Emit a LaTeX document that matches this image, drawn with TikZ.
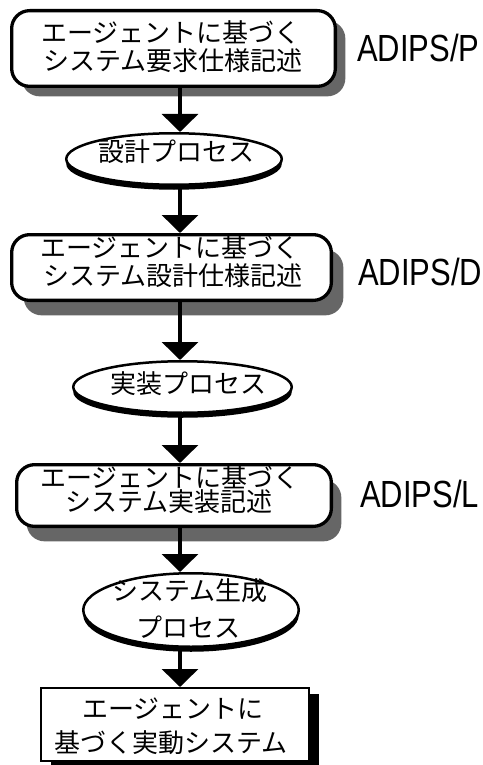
\documentclass[tikz,border=0pt]{standalone}
\usepackage{fontspec}
\setmainfont{Noto Sans CJK JP}
\newfontfamily\latfont{Liberation Sans}
\usetikzlibrary{arrows.meta,shadows,shapes.geometric}
\begin{document}
\begin{tikzpicture}[x=1pt,y=-1pt,
  descbox/.style 2 args={draw, line width=3.3pt, rounded corners=18pt, fill=white, inner sep=0pt,
     general shadow={shadow xshift=#1, shadow yshift=#2, fill=black!60}},
  procell/.style={ellipse, draw, line width=2.5pt, fill=white, inner sep=0pt,
     general shadow={shadow yshift=-5pt, fill=black}},
  finalbox/.style={draw, line width=2pt, fill=white, inner sep=0pt,
     general shadow={shadow xshift=10pt, shadow yshift=-6pt, fill=black}},
  arr/.style={line width=3.3pt, -{Triangle[width=36pt,length=18pt]}},
  jp/.style={inner sep=0pt, font=\fontsize{26pt}{30pt}\selectfont},
  lbl/.style={inner sep=0pt, anchor=base west, font=\latfont\fontsize{31pt}{36pt}\selectfont}]
\useasboundingbox (0,0) rectangle (482,765);
\coordinate (ax) at (180,0);

% description boxes
\node[descbox={10pt}{-10pt}, minimum width=323.7pt, minimum height=75.7pt] (b1) at (173.5,48.5) {};
\node[descbox={12pt}{-15pt}, minimum width=319.7pt, minimum height=65.7pt] (b2) at (171.5,267.5) {};
\node[descbox={10pt}{-15pt}, minimum width=314.7pt, minimum height=61.7pt] (b3) at (174,495.5) {};
\node[finalbox, minimum width=268pt, minimum height=73pt] (b4) at (175,724.5) {};

% process ellipses
\node[procell, minimum width=215.5pt, minimum height=51.5pt] (e1) at (174,159) {};
\node[procell, minimum width=218.5pt, minimum height=51.5pt] (e2) at (182.5,387) {};
\node[procell, minimum width=215.5pt, minimum height=73.5pt] (e3) at (191,610) {};

% texts
\node[jp] (t1a) at (171,32) {エージェントに基づく};
\node[jp] (t1b) at (173,61) {システム要求仕様記述};
\node[jp] (t2a) at (170,247) {エージェントに基づく};
\node[jp] (t2b) at (173,276) {システム設計仕様記述};
\node[jp] (t3a) at (170,477) {エージェントに基づく};
\node[jp] (t3b) at (169,502) {システム実装記述};
\node[jp] (te1) at (176,152) {設計プロセス};
\node[jp] (te2) at (188,384) {実装プロセス};
\node[jp] (te3a) at (190,591) {システム生成};
\node[jp] (te3b) at (188,627) {プロセス};
\node[jp] (t4a) at (173,709) {エージェントに};
\node[jp] (t4b) at (171,743) {基づく実動システム};

% labels
\node[lbl] (lp) at (357,62) {\scalebox{1}[1.22]{ADIPS/P}};
\node[lbl] (ld) at (358,285) {\scalebox{1}[1.22]{ADIPS/D}};
\node[lbl] (ll) at (360,507) {\scalebox{1}[1.22]{ADIPS/L}};

% arrows
\draw[arr] (b1.south -| ax) -- (e1.north -| ax);
\draw[arr] (e1.south -| ax) -- (b2.north -| ax);
\draw[arr] (b2.south -| ax) -- (e2.north -| ax);
\draw[arr] (e2.south -| ax) -- (b3.north -| ax);
\draw[arr] (b3.south -| ax) -- (e3.north -| ax);
\draw[arr] (e3.south -| ax) -- (b4.north -| ax);
\end{tikzpicture}
\end{document}
